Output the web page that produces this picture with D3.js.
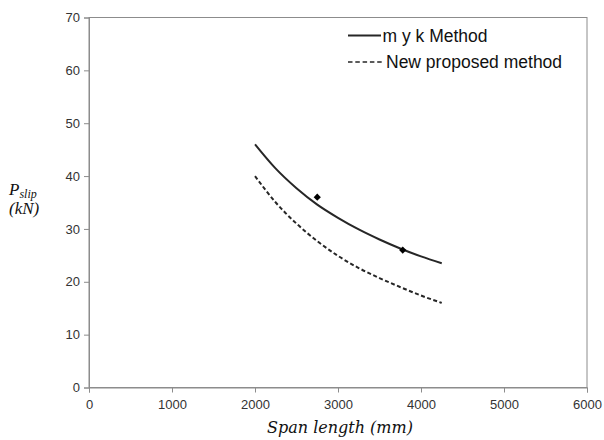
<!DOCTYPE html>
<html><head><meta charset="utf-8">
<script src="https://cdn.jsdelivr.net/npm/d3@7"></script>
<style>body{margin:0;background:#fff}svg{display:block}</style>
</head><body>
<svg id="c" width="604" height="440"></svg>
<script>
const spans = [2000, 2250, 2500, 2750, 3000, 3250, 3500, 3750, 4000, 4250];
const mykMethod = [46.0, 41.4, 37.7, 34.6, 32.1, 29.9, 28.0, 26.3, 24.8, 23.5];
const newMethod = [40.0, 35.0, 31.0, 27.7, 24.9, 22.6, 20.7, 19.0, 17.4, 16.0];
const testSpans = [2750, 3780];
const testLoads = [36.0, 26.0];
const xTicks = [0, 1000, 2000, 3000, 4000, 5000, 6000];
const yTicks = [0, 10, 20, 30, 40, 50, 60, 70];
const seriesNames = ["m y k Method", "New proposed method"];

const svg = d3.select("#c");
const L = 89, R = 587, T = 17.5, B = 387.5;
const x = d3.scaleLinear().domain([0, 6000]).range([L, R]);
const y = d3.scaleLinear().domain([0, 70]).range([B, T]);
const axisColor = "#8c8c8c";
const tickFont = "Liberation Sans, Arial, sans-serif";

// frame
svg.append("rect").attr("x", L).attr("y", T).attr("width", R - L).attr("height", B - T)
  .attr("fill", "none").attr("stroke", axisColor).attr("stroke-width", 1);

const gx = svg.append("g").attr("transform", `translate(0,${B})`)
  .call(d3.axisBottom(x).tickValues(xTicks).tickSize(5).tickPadding(7).tickFormat(d3.format("d")));
const gy = svg.append("g").attr("transform", `translate(${L},0)`)
  .call(d3.axisLeft(y).tickValues(yTicks).tickSize(5).tickPadding(4).tickFormat(d3.format("d")));
[gx, gy].forEach(g => {
  g.select(".domain").attr("stroke", axisColor);
  g.selectAll(".tick line").attr("stroke", axisColor);
  g.selectAll(".tick text").attr("fill", "#333").style("font-family", tickFont).style("font-size", "13px");
});

const line = d3.line().x(d => x(d[0])).y(d => y(d[1])).curve(d3.curveMonotoneX);
svg.append("path").datum(spans.map((s, i) => [s, mykMethod[i]]))
  .attr("d", line).attr("fill", "none").attr("stroke", "#262626").attr("stroke-width", 2);
svg.append("path").datum(spans.map((s, i) => [s, newMethod[i]]))
  .attr("d", line).attr("fill", "none").attr("stroke", "#262626").attr("stroke-width", 2)
  .attr("stroke-dasharray", "4,2.5");

svg.selectAll(".pt").data(testSpans.map((s, i) => [s, testLoads[i]])).enter().append("path")
  .attr("class", "pt").attr("transform", d => `translate(${x(d[0])},${y(d[1])}) rotate(45)`)
  .attr("d", d3.symbol(d3.symbolSquare, 26)).attr("fill", "#000");

// legend
const lg = svg.append("g");
lg.append("line").attr("x1", 348).attr("x2", 381).attr("y1", 35.5).attr("y2", 35.5)
  .attr("stroke", "#262626").attr("stroke-width", 2);
lg.append("text").attr("x", 382.5).attr("y", 41.5).text(seriesNames[0])
  .style("font-family", tickFont).style("font-size", "17.5px").attr("fill", "#111");
lg.append("line").attr("x1", 348).attr("x2", 384).attr("y1", 62).attr("y2", 62)
  .attr("stroke", "#262626").attr("stroke-width", 1.6).attr("stroke-dasharray", "4.5,2.8");
lg.append("text").attr("x", 386).attr("y", 68).text(seriesNames[1])
  .style("font-family", tickFont).style("font-size", "17.5px").attr("fill", "#111");

// axis titles
const serif = "DejaVu Serif, serif";
svg.append("text").attr("x", 340).attr("y", 433).attr("text-anchor", "middle")
  .style("font-family", serif).style("font-style", "italic").style("font-size", "16px")
  .attr("fill", "#111").text("Span length (mm)");
const yserif = "Liberation Serif, Times New Roman, serif";
const yl = svg.append("text").attr("x", 9).attr("y", 195)
  .style("font-family", yserif).style("font-style", "italic").attr("fill", "#111");
yl.append("tspan").style("font-size", "17px").text("P");
yl.append("tspan").style("font-size", "12px").attr("dy", 2.5).text("slip");
svg.append("text").attr("x", 9).attr("y", 214)
  .style("font-family", yserif).style("font-style", "italic").style("font-size", "17px")
  .attr("fill", "#111").text("(kN)");
</script>
</body></html>
